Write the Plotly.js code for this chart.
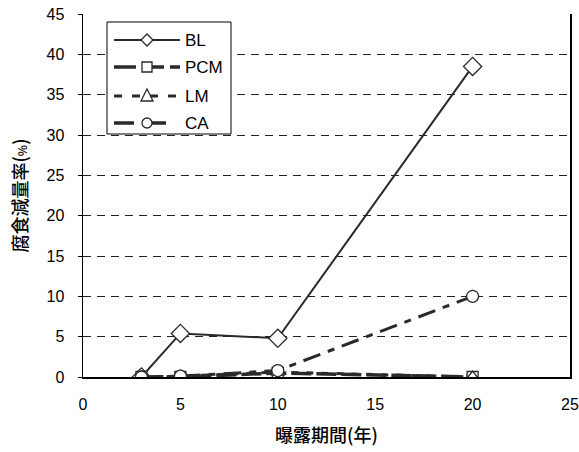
<!DOCTYPE html>
<html>
<head>
<meta charset="utf-8">
<script src="https://cdn.plot.ly/plotly-3.0.1.min.js"></script>
<style>html,body{margin:0;padding:0;background:#fff;}</style>
</head>
<body>
<div id="chart" style="width:579px;height:452px;"></div>
<script>
const years = [3, 5, 10, 20];
const BL = [0, 5.4, 4.8, 38.5];
const PCM = [0, 0, 0.5, 0];
const LM = [0, 0.1, 0.6, 0];
const CA = [0, 0.1, 0.8, 10];
const seriesNames = ['BL', 'PCM', 'LM', 'CA'];

const col = '#2a2a2a';
const mk = (sym, size) => ({symbol: sym, size: size, color: '#fff', line: {width: 1.3, color: col}});
const traces = [
  {x: years, y: BL, name: seriesNames[0], mode: 'lines+markers',
   line: {color: col, width: 2, dash: 'solid'}, marker: mk('diamond', 14)},
  {x: years, y: PCM, name: seriesNames[1], mode: 'lines+markers',
   line: {color: col, width: 3.5, dash: '20px,5px'}, marker: mk('square', 11)},
  {x: years, y: LM, name: seriesNames[2], mode: 'lines+markers',
   line: {color: col, width: 3, dash: '7px,8px'}, marker: mk('triangle-up', 12)},
  {x: years, y: CA, name: seriesNames[3], mode: 'lines+markers',
   line: {color: col, width: 3, dash: '18px,8px,7px,8px'}, marker: mk('circle', 12)}
];

// custom legend (pixel offsets from the legend box's top-left corner)
const xa = 24 / 487, ya = (377 - 22) / 363;
const P = (o) => Object.assign({xref: 'paper', yref: 'paper', xsizemode: 'pixel', ysizemode: 'pixel',
  xanchor: xa, yanchor: ya, layer: 'above'}, o);
const rows = [-18, -45, -74, -101];
const dashes = ['solid', '22px,6px', '8px,10px', '20px,12px,20px'];
const widths = [2, 3.5, 3, 3.5];
const shapes = [P({type: 'rect', x0: 0, x1: 124, y0: 0, y1: -112, fillcolor: '#fff', line: {color: '#000', width: 1}})];
rows.forEach((r, i) => {
  shapes.push(P({type: 'line', x0: 7, x1: 73, y0: r, y1: r, line: {color: col, width: widths[i], dash: dashes[i]}}));
});
const m = {fillcolor: '#fff', line: {color: col, width: 1.3}};
shapes.push(P(Object.assign({type: 'path', path: `M40,${rows[0]+6} L46,${rows[0]} L40,${rows[0]-6} L34,${rows[0]} Z`}, m)));
shapes.push(P(Object.assign({type: 'path', path: `M35,${rows[1]+5} L45,${rows[1]+5} L45,${rows[1]-5} L35,${rows[1]-5} Z`}, m)));
shapes.push(P(Object.assign({type: 'path', path: `M40,${rows[2]+7} L46,${rows[2]-5} L34,${rows[2]-5} Z`}, m)));
shapes.push(P(Object.assign({type: 'circle', x0: 35, x1: 45, y0: rows[3]+5, y1: rows[3]-5}, m)));
const annotations = seriesNames.map((n, i) => ({
  xref: 'paper', yref: 'paper', x: xa, y: ya, xshift: 76, yshift: rows[i],
  xanchor: 'left', yanchor: 'middle', showarrow: false, text: n,
  font: {family: 'Liberation Sans, Arial, sans-serif', size: 17, color: '#000'}
}));

const layout = {
  width: 579, height: 452,
  margin: {l: 83, r: 9, t: 14, b: 75},
  paper_bgcolor: '#fff', plot_bgcolor: '#fff',
  font: {family: 'Liberation Sans, Arial, sans-serif', size: 16, color: '#000'},
  showlegend: false,
  shapes: shapes,
  annotations: annotations,
  xaxis: {
    range: [0, 25], dtick: 5, tick0: 0,
    showgrid: false, zeroline: false,
    showline: true, linecolor: '#000', linewidth: 1.5,
    ticks: '', ticklabelstandoff: 12,
    tickfont: {family: 'Liberation Sans, Arial, sans-serif', size: 16},
    title: {text: '曝露期間(年)', standoff: 17,
      font: {family: 'Noto Sans CJK JP, sans-serif', size: 18, weight: 500}}
  },
  yaxis: {
    range: [0, 45], dtick: 5, tick0: 0,
    showgrid: true, gridcolor: '#222', gridwidth: 1, griddash: '8px,6px',
    zeroline: false,
    showline: true, linecolor: '#000', linewidth: 1.5, mirror: true,
    ticks: 'outside', ticklen: 4, tickcolor: '#000', ticklabelstandoff: 10,
    tickfont: {family: 'Liberation Sans, Arial, sans-serif', size: 16},
    title: {text: '腐食減量率(<span style="font-size:12px">%</span>)', standoff: 14,
      font: {family: 'Noto Sans CJK JP, sans-serif', size: 18, weight: 500}}
  }
};

Plotly.newPlot('chart', traces, layout, {displayModeBar: false, staticPlot: true});
</script>
</body>
</html>
